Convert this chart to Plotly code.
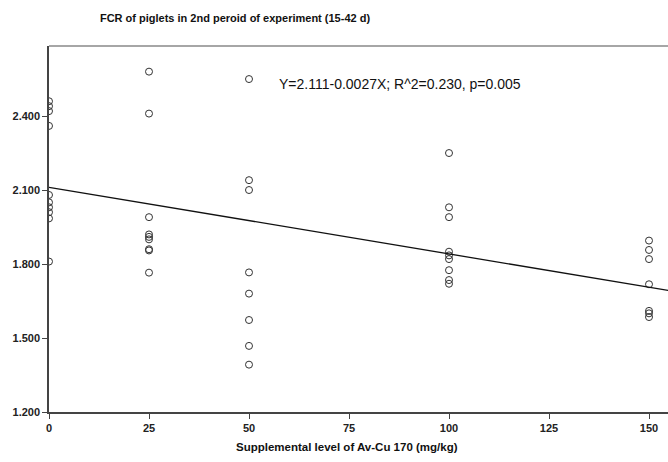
import plotly.graph_objects as go

# Data
x_levels = [0, 25, 50, 100, 150]
fcr_0 = [2.46, 2.44, 2.42, 2.36, 2.08, 2.05, 2.03, 2.01, 1.985, 1.81]
fcr_25 = [2.58, 2.41, 1.99, 1.92, 1.91, 1.90, 1.86, 1.855, 1.765]
fcr_50 = [2.55, 2.14, 2.10, 1.766, 1.68, 1.573, 1.468, 1.392]
fcr_100 = [2.25, 2.03, 1.99, 1.85, 1.835, 1.82, 1.775, 1.735, 1.72]
fcr_150 = [1.895, 1.857, 1.82, 1.718, 1.61, 1.60, 1.585]
fit_intercept = 2.111
fit_slope = -0.0027
y_ticks = [1.2, 1.5, 1.8, 2.1, 2.4]
y_tick_labels = ["1.200", "1.500", "1.800", "2.100", "2.400"]
x_ticks = [0, 25, 50, 75, 100, 125, 150]

groups = [fcr_0, fcr_25, fcr_50, fcr_100, fcr_150]
xs, ys = [], []
for lvl, vals in zip(x_levels, groups):
    xs += [lvl] * len(vals)
    ys += vals

X_MAX = 154.75
Y_MIN, Y_MAX = 1.2, 2.684
FONT = "Liberation Sans, Arial"

fig = go.Figure()
fig.add_trace(go.Scatter(
    x=xs, y=ys, mode="markers",
    marker=dict(symbol="circle-open", size=7, color="#333333", line=dict(width=1)),
    showlegend=False, cliponaxis=True,
))
fit_x = [0, 160]
fit_y = [fit_intercept + fit_slope * v for v in fit_x]
fig.add_trace(go.Scatter(
    x=fit_x, y=fit_y, mode="lines",
    line=dict(color="#111111", width=1.3),
    showlegend=False, cliponaxis=True,
))

tick_font = dict(family=FONT, size=11, color="#222222", weight="bold")

fig.update_layout(
    width=668, height=462,
    margin=dict(l=49, r=0, t=46, b=50),
    paper_bgcolor="white", plot_bgcolor="white",
    title=dict(
        text="FCR of piglets in 2nd peroid of experiment (15-42 d)",
        x=235 / 668, xanchor="center", y=1 - 18 / 462, yanchor="middle",
        font=dict(family=FONT, size=11, color="#111111", weight="bold"),
    ),
    xaxis=dict(
        range=[0, X_MAX], tickvals=x_ticks, ticktext=[str(t) for t in x_ticks],
        showgrid=False, zeroline=False, showline=True, linecolor="#444444", linewidth=1.5,
        ticks="outside", ticklen=5, tickcolor="#444444", tickfont=tick_font,
    ),
    yaxis=dict(
        range=[Y_MIN, Y_MAX], tickvals=y_ticks, ticktext=y_tick_labels,
        showgrid=False, zeroline=False, showline=True, linecolor="#444444", linewidth=1.5,
        ticks="outside", ticklen=5, tickcolor="#444444", tickfont=tick_font,
    ),
    shapes=[dict(type="line", xref="paper", yref="paper", x0=0, x1=1, y0=1, y1=1,
                 line=dict(color="#888888", width=1.5))],
    annotations=[
        dict(
            text="Y=2.111-0.0027X; R^2=0.230, p=0.005", xref="paper", yref="paper",
            x=(400 - 49) / 619, y=(412 - 84) / 366, xanchor="center", yanchor="middle",
            showarrow=False,
            font=dict(family=FONT, size=14, color="#111111"),
        ),
        dict(
            text="Supplemental level of Av-Cu 170 (mg/kg)", xref="paper", yref="paper",
            x=(347 - 49) / 619, y=-(447 - 412) / 366, xanchor="center", yanchor="middle",
            showarrow=False,
            font=dict(family=FONT, size=11.5, color="#111111", weight="bold"),
        ),
    ],
)

fig.write_html("out.html")
